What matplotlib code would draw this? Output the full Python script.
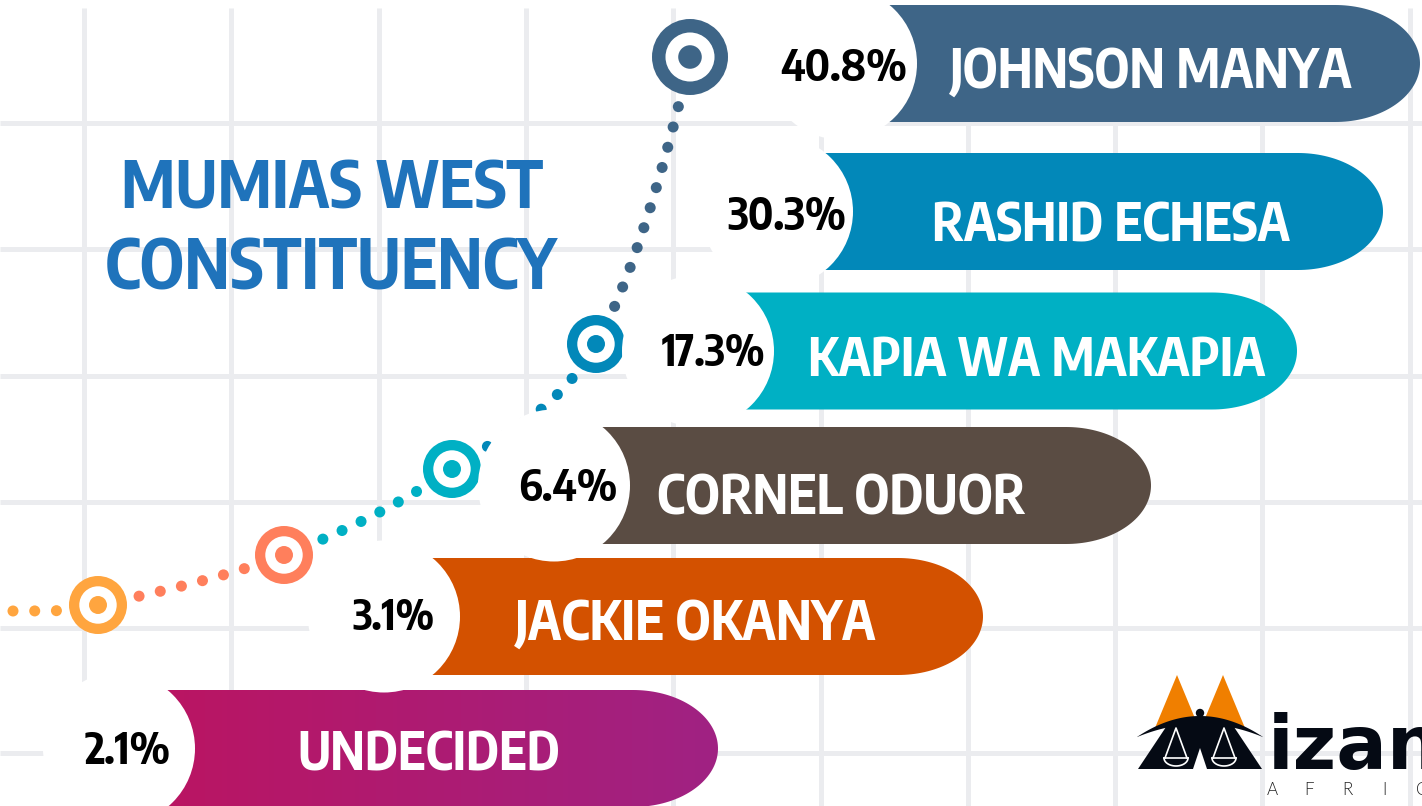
import numpy as np
import matplotlib
matplotlib.use("Agg")
import matplotlib.pyplot as plt
from matplotlib.patches import Circle, Polygon
from matplotlib.colors import LinearSegmentedColormap
from matplotlib.textpath import TextPath
from matplotlib.font_manager import FontProperties, fontManager

# ---- data ----
candidates = ["JOHNSON MANYA", "RASHID ECHESA", "KAPIA WA MAKAPIA",
              "CORNEL ODUOR", "JACKIE OKANYA", "UNDECIDED"]
shares = [40.8, 30.3, 17.3, 6.4, 3.1, 2.1]
bar_colors = ["#3e6587", "#0288b9", "#00b0c4", "#5a4c43", "#d35100", "#b8175f"]
undecided_grad = ["#bc1460", "#a02283"]
title_lines = ["MUMIAS WEST", "CONSTITUENCY"]
ring_colors = ["#ffa53f", "#ff7f5c", "#00b0c4", "#0288b9", "#3e6587"]
logo_text = ["izan", "AFRICA"]

# ---- layout (pixels) ----
W, H = 1422, 806
bar_cy = [63.5, 211.5, 351, 485.5, 616.5, 748.5]
bar_left = [917, 853, 774, 630, 460, 195]
bar_right = [1420, 1383, 1297, 1151, 983, 718]
bar_half = 58.5
end_rx = 85
hole_r = 76
name_cx = [1150, 1111, 1037, 841, 696, 429]
name_cy = [68, 222, 357, 495, 620, 751]
name_w = [404, 355, 454, 367, 362, 258]
pct_cx = [844, 787, 714, 568, 393, 128]
pct_cy = [65, 213.5, 350, 484.5, 614.5, 747.5]
pct_w = [125, 117, 102, 96, 80, 84]
ring_xy = [(98, 605), (284, 555), (452, 469), (596, 344), (690, 57)]
ring_r = [29, 29, 29, 29, 38]
grid_x = [84 + 147.3 * k for k in range(10)]
grid_y = [123, 249, 376, 502, 628, 753]


def pick(families, weight="bold", stretch="normal"):
    fp = FontProperties(family=families, weight=weight, stretch=stretch)
    return FontProperties(fname=fontManager.findfont(fp))


cond_bold = pick(["Encode Sans Condensed", "DejaVu Sans"], "bold", "condensed")
heavy = pick(["DejaVu Sans"], "bold")
light = pick(["Lato", "DejaVu Sans"], 300)

fig = plt.figure(figsize=(W / 100, H / 100), dpi=100)
ax = fig.add_axes([0, 0, 1, 1])
ax.set_xlim(0, W)
ax.set_ylim(H, 0)
ax.axis("off")


def fit_text(s, cx, cy, cap_h, width, color, fp, z=10):
    cap = TextPath((0, 0), "H", size=100, prop=fp).get_extents().height / 100
    wr = TextPath((0, 0), s, size=100, prop=fp).get_extents().width / 100
    px = min(cap_h / cap, width / wr)
    ax.text(cx, cy + cap * px / 2, s, ha="center", va="baseline", color=color,
            fontproperties=fp, fontsize=px * 0.72, zorder=z)


# grid
ax.vlines(grid_x, 8, H, color="#ebecef", lw=3.6, zorder=0)
ax.hlines(grid_y, 0, W, color="#ebecef", lw=3.6, zorder=0)


# dotted curve (Catmull-Rom through the ring centres)
def catmull(pts, n=200):
    pts = np.asarray(pts, float)
    out = []
    for i in range(1, len(pts) - 2):
        p0, p1, p2, p3 = pts[i - 1], pts[i], pts[i + 1], pts[i + 2]
        t = np.linspace(0, 1, n)[:, None]
        seg = 0.5 * ((2 * p1) + (-p0 + p2) * t + (2 * p0 - 5 * p1 + 4 * p2 - p3) * t ** 2
                     + (-p0 + 3 * p1 - 3 * p2 + p3) * t ** 3)
        out.append(seg if i == 1 else seg[1:])
    return np.vstack(out)


guide = [(-30, 613), (13, 611)] + ring_xy + [(693, -100)]
curve = catmull(guide)
arc = np.concatenate([[0], np.cumsum(np.hypot(*np.diff(curve, axis=0).T))])
stops = [0]
for (x, y) in ring_xy:
    d = np.hypot(curve[:, 0] - x, curve[:, 1] - y)
    stops.append(arc[np.argmin(d)])
for i in range(len(ring_xy)):
    a = stops[i] + (0 if i == 0 else ring_r[i - 1] + 13)
    b = stops[i + 1] - (ring_r[i] + 13)
    n = int(round((b - a) / 21)) + 1
    for s in np.linspace(a, b, n):
        x = np.interp(s, arc, curve[:, 0])
        y = np.interp(s, arc, curve[:, 1])
        ax.add_patch(Circle((x, y), 5.5, color=ring_colors[i], lw=0, zorder=2))

for (x, y), r, c in zip(ring_xy, ring_r, ring_colors):
    ax.add_patch(Circle((x, y), r, color=c, lw=0, zorder=3))
    ax.add_patch(Circle((x, y), r * 0.645, color="white", lw=0, zorder=3))
    ax.add_patch(Circle((x, y), r * 0.31, color=c, lw=0, zorder=3))

# bars
cmap = LinearSegmentedColormap.from_list("undecided", undecided_grad)
for i, name in enumerate(candidates):
    cy = bar_cy[i]
    cx = bar_left[i] - hole_r
    t = np.linspace(np.pi / 2, -np.pi / 2, 80)
    ex = bar_right[i] - end_rx + end_rx * np.cos(t)
    ey = cy - bar_half * np.sin(t)
    verts = [(cx, cy - bar_half)] + list(zip(ex, ey)) + [(cx, cy + bar_half)]
    if name == "UNDECIDED":
        poly = Polygon(verts, closed=True, fc="none", lw=0, zorder=4)
        ax.add_patch(poly)
        grad = np.linspace(0, 1, 256)[None, :]
        im = ax.imshow(grad, cmap=cmap, aspect="auto", zorder=4,
                       extent=(cx, bar_right[i], cy + bar_half, cy - bar_half))
        im.set_clip_path(poly)
    else:
        ax.add_patch(Polygon(verts, closed=True, fc=bar_colors[i], lw=0, zorder=4))
    ax.add_patch(Circle((cx, cy), hole_r, color="white", lw=0, zorder=5))
    fit_text(f"{shares[i]}%", pct_cx[i], pct_cy[i], 36, pct_w[i], "black", cond_bold)
    fit_text(name, name_cx[i], name_cy[i], 40, name_w[i], "white", cond_bold)

# title
fit_text(title_lines[0], 332, 184.5, 55, 418, "#1f73bb", cond_bold)
fit_text(title_lines[1], 331, 264.5, 55, 452, "#1f73bb", cond_bold)

# logo
ink = "#050a14"
orange = "#f07f00"
ax.add_patch(Polygon([(1177, 675), (1155, 728), (1199, 728)], fc=orange, lw=0, zorder=6))
ax.add_patch(Polygon([(1223, 675), (1201, 728), (1245, 728)], fc=orange, lw=0, zorder=6))
xs = np.linspace(1137, 1263, 60)
top = 716 + 0.00529 * (xs - 1200) ** 2
bot = 724 + 0.0033 * (xs - 1200) ** 2
ax.add_patch(Polygon(list(zip(xs, top)) + list(zip(xs[::-1], bot[::-1])),
                     fc=ink, lw=0, zorder=7))
ax.add_patch(Circle((1200, 713), 3.5, color=ink, zorder=7))
m_shape = [(1138, 769), (1168, 724), (1232, 724), (1262, 769)]
ax.add_patch(Polygon(m_shape, fc=ink, lw=0, zorder=7))
for px0 in (1176, 1224):
    ax.plot([px0 - 11, px0, px0 + 11], [758, 728, 758], color="white", lw=1.2, zorder=8)
    tt = np.linspace(0, np.pi, 20)
    ax.plot(px0 + 12 * np.cos(tt), 758 + 8 * np.sin(tt), color="white", lw=1.2, zorder=8)
    ax.plot([px0 - 12, px0 + 12], [758, 758], color="white", lw=1.2, zorder=8)
ax.add_patch(Polygon([(1193, 769), (1200, 748), (1207, 769)], fc="white", lw=0, zorder=8))

xh = TextPath((0, 0), "x", size=100, prop=heavy).get_extents().height / 100
ax.text(1268, 769, logo_text[0], ha="left", va="baseline", fontproperties=heavy,
        fontsize=41 / xh * 0.72, color=ink, zorder=7)
capl = TextPath((0, 0), "H", size=100, prop=light).get_extents().height / 100
for k, ch in enumerate(logo_text[1]):
    ax.text(1272 + 37.5 * k, 795, ch, ha="center", va="baseline", fontproperties=light,
            fontsize=12 / capl * 0.72, color="#222222", zorder=7)

fig.savefig("out.png", dpi=100)
